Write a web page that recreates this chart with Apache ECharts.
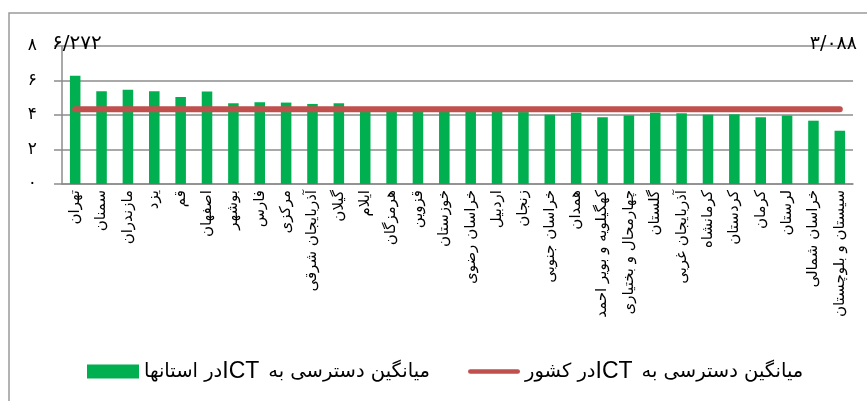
<!DOCTYPE html>
<html>
<head>
<meta charset="utf-8">
<script src="https://cdn.jsdelivr.net/npm/echarts@6/dist/echarts.min.js"></script>
<style>
  html, body { margin: 0; padding: 0; background: #fff; }
  #main { width: 867px; height: 401px; }
</style>
</head>
<body>
<div id="main"></div>
<script>
// provinces, left to right as in the source chart
var provinces = [
  'تهران', 'سمنان', 'مازندران', 'یزد', 'قم', 'اصفهان', 'بوشهر', 'فارس', 'مرکزی',
  'آذربایجان شرقی', 'گیلان', 'ایلام', 'هرمزگان', 'قزوین', 'خوزستان', 'خراسان رضوی',
  'اردبیل', 'زنجان', 'خراسان جنوبی', 'همدان', 'کهگیلویه و بویر احمد',
  'چهارمحال و بختیاری', 'گلستان', 'آذربایجان غربی', 'کرمانشاه', 'کردستان', 'کرمان',
  'لرستان', 'خراسان شمالی', 'سیستان و بلوچستان'
];
// ICT access average per province
var provinceValues = [
  6.272, 5.37, 5.47, 5.37, 5.04, 5.36, 4.68, 4.74, 4.72,
  4.64, 4.68, 4.25, 4.22, 4.2, 4.2, 4.18,
  4.2, 4.17, 4.02, 4.14, 3.87,
  3.98, 4.14, 4.1, 4.02, 4.04, 3.87,
  3.97, 3.67, 3.088
];
// national average
var nationalAvg = 4.33;
var yTickLabels = ['۰', '۲', '۴', '۶', '۸'];
var maxLabel = '۶/۲۷۲';
var minLabel = '۳/۰۸۸';
var seriesNames = ['میانگین دسترسی به  ICTدر استانها', 'میانگین دسترسی به  ICTدر کشور'];

var font = 'DejaVu Sans';
var gray = '#8c8c8c';

var chart = echarts.init(document.getElementById('main'));
chart.setOption({
  animation: false,
  textStyle: { fontFamily: font, color: '#000' },
  grid: { left: 62, right: 14, top: 46, bottom: 217 },
  graphic: [
    {
      type: 'rect', silent: true, z: -10,
      shape: { x: 9, y: 13, width: 900, height: 500 },
      style: { fill: 'none', stroke: '#9a9a9a', lineWidth: 1.5 }
    },
    {
      type: 'text', left: 52, top: 34, z: 10,
      style: { text: maxLabel, font: '20px "DejaVu Sans"', fill: '#000' }
    },
    {
      type: 'text', right: 10, top: 35, z: 10,
      style: { text: minLabel, font: '19px "DejaVu Sans"', fill: '#000' }
    }
  ],
  legend: {
    left: 82,
    top: 355,
    itemGap: 38,
    itemWidth: 52,
    itemHeight: 14,
    data: [
      { name: seriesNames[0], icon: 'rect' },
      {
        name: seriesNames[1],
        icon: 'path://M2.5,0 L53.5,0 A2.5,2.5 0 0 1 53.5,5 L2.5,5 A2.5,2.5 0 0 1 2.5,0 Z'
      }
    ],
    formatter: function (name) {
      var parts = name.split('ICT');
      return '{a|' + parts[1] + '}{b|ICT}{a|' + parts[0].trim() + '}';
    },
    textStyle: {
      rich: {
        a: { fontFamily: font, fontSize: 19.5, color: '#000' },
        b: { fontFamily: 'Liberation Sans', fontSize: 23, color: '#000', padding: [0, 9, 0, 0] }
      }
    }
  },
  xAxis: {
    type: 'category',
    data: provinces,
    axisLine: { lineStyle: { color: gray, width: 1.5 } },
    axisTick: { length: 5, lineStyle: { color: gray, width: 1.5 } },
    axisLabel: { rotate: 90, interval: 0, margin: 6, fontSize: 15, color: '#000', fontFamily: font }
  },
  yAxis: {
    type: 'value',
    min: 0, max: 8, interval: 2,
    axisLine: { show: true, lineStyle: { color: gray, width: 1.5 } },
    axisTick: { show: true, length: 8, lineStyle: { color: gray, width: 1.5 } },
    splitLine: { lineStyle: { color: gray, width: 1.5 } },
    axisLabel: {
      margin: 25, fontSize: 17, color: '#000', fontFamily: font,
      formatter: function (v) { return yTickLabels[v / 2]; }
    }
  },
  series: [
    {
      name: seriesNames[0],
      type: 'bar',
      data: provinceValues,
      barCategoryGap: '60%',
      itemStyle: { color: '#00B050' }
    },
    {
      name: seriesNames[1],
      type: 'line',
      data: provinces.map(function () { return nationalAvg; }),
      symbol: 'none',
      z: 5,
      itemStyle: { color: '#C0504D' },
      lineStyle: { color: '#C0504D', width: 6, cap: 'round' }
    }
  ]
});
</script>
</body>
</html>
